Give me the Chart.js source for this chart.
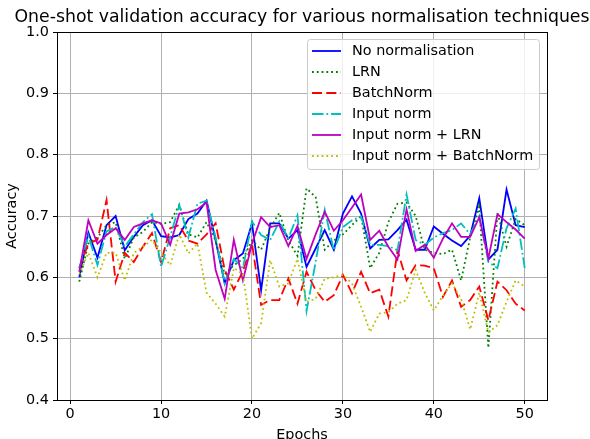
<!DOCTYPE html>
<html>
<head>
<meta charset="utf-8">
<script src="https://cdn.jsdelivr.net/npm/chart.js@4.4.1/dist/chart.umd.min.js"></script>
<style>
  html, body { margin: 0; padding: 0; background: #fff; }
  #wrap { width: 590px; height: 439px; }
</style>
</head>
<body>
<div id="wrap"><canvas id="accChart" width="590" height="439"></canvas></div>
<script>
const epochs = [1, 2, 3, 4, 5, 6, 7, 8, 9, 10, 11, 12, 13, 14, 15, 16, 17, 18, 19, 20,
  21, 22, 23, 24, 25, 26, 27, 28, 29, 30, 31, 32, 33, 34, 35, 36, 37, 38, 39, 40,
  41, 42, 43, 44, 45, 46, 47, 48, 49, 50];

const noNorm = [0.600, 0.673, 0.632, 0.685, 0.700, 0.644, 0.666, 0.685, 0.693, 0.667,
  0.665, 0.669, 0.695, 0.704, 0.725, 0.660, 0.590, 0.628, 0.639, 0.688,
  0.579, 0.688, 0.688, 0.663, 0.677, 0.617, 0.647, 0.677, 0.645, 0.704,
  0.732, 0.704, 0.647, 0.661, 0.662, 0.677, 0.694, 0.645, 0.645, 0.683,
  0.671, 0.660, 0.651, 0.668, 0.729, 0.629, 0.645, 0.743, 0.685, 0.682];

const lrn = [0.593, 0.655, 0.665, 0.685, 0.690, 0.630, 0.665, 0.674, 0.690, 0.687,
  0.690, 0.718, 0.670, 0.665, 0.690, 0.660, 0.605, 0.620, 0.630, 0.660,
  0.645, 0.680, 0.705, 0.660, 0.635, 0.745, 0.731, 0.645, 0.660, 0.670,
  0.685, 0.700, 0.615, 0.640, 0.690, 0.720, 0.722, 0.700, 0.645, 0.640,
  0.638, 0.645, 0.595, 0.665, 0.715, 0.485, 0.705, 0.650, 0.695, 0.685];

const batchNorm = [0.615, 0.655, 0.661, 0.726, 0.593, 0.640, 0.625, 0.650, 0.672, 0.625,
  0.680, 0.685, 0.660, 0.655, 0.670, 0.688, 0.612, 0.580, 0.610, 0.655,
  0.555, 0.563, 0.563, 0.598, 0.557, 0.609, 0.579, 0.560, 0.571, 0.604,
  0.574, 0.609, 0.574, 0.580, 0.536, 0.644, 0.595, 0.620, 0.619, 0.615,
  0.568, 0.595, 0.552, 0.563, 0.585, 0.530, 0.593, 0.579, 0.557, 0.546];

const inputNorm = [0.615, 0.668, 0.620, 0.675, 0.682, 0.650, 0.670, 0.690, 0.703, 0.617,
  0.666, 0.718, 0.665, 0.720, 0.725, 0.665, 0.590, 0.630, 0.615, 0.691,
  0.669, 0.661, 0.691, 0.664, 0.701, 0.545, 0.625, 0.710, 0.644, 0.682,
  0.693, 0.699, 0.653, 0.653, 0.651, 0.644, 0.735, 0.661, 0.653, 0.665,
  0.672, 0.677, 0.688, 0.670, 0.700, 0.625, 0.615, 0.680, 0.712, 0.615];

const inputLrn = [0.609, 0.693, 0.655, 0.669, 0.680, 0.661, 0.682, 0.688, 0.693, 0.688,
  0.653, 0.704, 0.706, 0.711, 0.722, 0.612, 0.565, 0.661, 0.595, 0.655,
  0.698, 0.682, 0.685, 0.651, 0.684, 0.630, 0.670, 0.707, 0.676, 0.693,
  0.714, 0.735, 0.661, 0.676, 0.650, 0.629, 0.711, 0.643, 0.653, 0.632,
  0.663, 0.688, 0.666, 0.666, 0.698, 0.631, 0.703, 0.690, 0.678, 0.663];

const inputBatch = [0.605, 0.640, 0.600, 0.640, 0.640, 0.595, 0.640, 0.650, 0.661, 0.640,
  0.620, 0.670, 0.639, 0.655, 0.575, 0.557, 0.536, 0.615, 0.605, 0.500,
  0.525, 0.628, 0.585, 0.590, 0.630, 0.560, 0.565, 0.598, 0.600, 0.604,
  0.590, 0.552, 0.511, 0.541, 0.543, 0.557, 0.563, 0.612, 0.575, 0.546,
  0.570, 0.590, 0.565, 0.515, 0.575, 0.510, 0.522, 0.560, 0.595, 0.585];

const xTicks = [0, 10, 20, 30, 40, 50];
const yTicks = [0.4, 0.5, 0.6, 0.7, 0.8, 0.9, 1.0];

const FONT = 'DejaVu Sans';

function series(label, values, color, dash) {
  return {
    label,
    data: values.map((v, i) => ({ x: epochs[i], y: v })),
    borderColor: color,
    backgroundColor: color,
    borderWidth: 1.8,
    borderDash: dash,
    pointRadius: 0,
    tension: 0,
    fill: false
  };
}

const datasets = [
  series('No normalisation', noNorm, '#0000ff', []),
  series('LRN', lrn, '#008000', [1.8, 3]),
  series('BatchNorm', batchNorm, '#ff0000', [10, 4.3]),
  series('Input norm', inputNorm, '#00bfbf', [11.5, 2.9, 1.8, 2.9]),
  series('Input norm + LRN', inputLrn, '#bf00bf', []),
  series('Input norm + BatchNorm', inputBatch, '#bfbf00', [1.8, 3])
];
// matplotlib draws later lines on top
datasets.forEach((d, i) => { d.order = datasets.length - i; });

// frame, title and legend drawn like matplotlib
const framePlugin = {
  id: 'frame',
  afterDraw(chart) {
    const ctx = chart.ctx;
    const a = chart.chartArea;
    ctx.save();
    ctx.strokeStyle = '#000';
    ctx.lineWidth = 1;
    ctx.strokeRect(a.left + 0.5, a.top + 0.5, a.right - a.left, a.bottom - a.top);

    ctx.fillStyle = '#000';
    ctx.font = '17.3px "' + FONT + '"';
    ctx.textAlign = 'center';
    ctx.textBaseline = 'middle';
    ctx.fillText('One-shot validation accuracy for various normalisation techniques', (a.left + a.right) / 2, 18);

    // legend box
    const bx = 307, by = 39, bw = 232, bh = 130;
    ctx.fillStyle = 'rgba(255,255,255,0.8)';
    ctx.strokeStyle = '#cccccc';
    ctx.beginPath();
    ctx.roundRect(bx + 0.5, by + 0.5, bw, bh, 3);
    ctx.fill();
    ctx.stroke();

    ctx.font = '14.4px "' + FONT + '"';
    ctx.textAlign = 'left';
    chart.data.datasets.forEach((d, i) => {
      const y = 51 + i * 21;
      ctx.strokeStyle = d.borderColor;
      ctx.lineWidth = 1.8;
      ctx.setLineDash(d.borderDash);
      ctx.beginPath();
      ctx.moveTo(312, y);
      ctx.lineTo(341, y);
      ctx.stroke();
      ctx.setLineDash([]);
      ctx.fillStyle = '#000';
      ctx.fillText(d.label, 352, y);
    });
    ctx.restore();
  }
};

const whiteBg = {
  id: 'whiteBg',
  beforeDraw(chart) {
    const ctx = chart.ctx;
    ctx.save();
    ctx.fillStyle = '#fff';
    ctx.fillRect(0, 0, chart.width, chart.height);
    ctx.restore();
  }
};

new Chart(document.getElementById('accChart'), {
  type: 'line',
  data: { datasets },
  options: {
    responsive: false,
    animation: false,
    devicePixelRatio: 1,
    layout: { padding: { left: 0, right: 43, top: 32, bottom: 0 } },
    plugins: {
      legend: { display: false },
      tooltip: { enabled: false }
    },
    scales: {
      x: {
        type: 'linear',
        min: -1.45,
        max: 52.45,
        afterBuildTicks: s => { s.ticks = xTicks.map(v => ({ value: v })); },
        afterFit: s => { s.height = 39; },
        grid: { color: '#b0b0b0', lineWidth: 1, tickLength: 4, tickColor: '#000' },
        border: { display: false },
        ticks: { color: '#000', padding: 2, font: { family: FONT, size: 14.4 }, maxRotation: 0 },
        title: { display: true, text: 'Epochs', color: '#000', font: { family: FONT, size: 14.4, lineHeight: 1 }, padding: { top: 0, bottom: -3 } }
      },
      y: {
        min: 0.4,
        max: 1.0,
        afterBuildTicks: s => { s.ticks = yTicks.map(v => ({ value: v })); },
        afterFit: s => { s.width = 57; },
        grid: { color: '#b0b0b0', lineWidth: 1, tickLength: 4, tickColor: '#000' },
        border: { display: false },
        ticks: { color: '#000', padding: 4, font: { family: FONT, size: 14.4 }, callback: v => v.toFixed(1) },
        title: { display: true, text: 'Accuracy', color: '#000', font: { family: FONT, size: 14.4, lineHeight: 1 }, padding: { top: 5, bottom: 0 } }
      }
    }
  },
  plugins: [whiteBg, framePlugin]
});
</script>
</body>
</html>
